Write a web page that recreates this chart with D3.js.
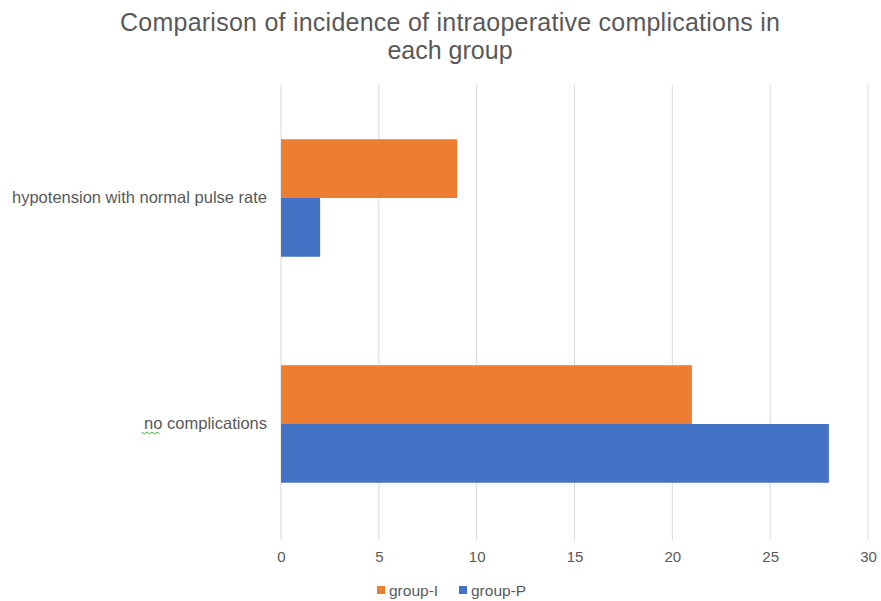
<!DOCTYPE html>
<html>
<head>
<meta charset="utf-8">
<script src="https://cdn.jsdelivr.net/npm/d3@7"></script>
<style>
  body { margin: 0; background: #fff; }
  text { font-family: "Liberation Sans", Arial, sans-serif; fill: #595959; }
</style>
</head>
<body>
<div id="chart"></div>
<script>
// data
const categories = ["hypotension with normal pulse rate", "no complications"];
const seriesNames = ["group-I", "group-P"];
const groupI = [9, 21];
const groupP = [2, 28];
const xTicks = [0, 5, 10, 15, 20, 25, 30];
const colors = ["#ed7d31", "#4472c4"];

const width = 881, height = 601;
const margin = { top: 85, right: 13, bottom: 64, left: 281 };

const svg = d3.select("#chart").append("svg")
    .attr("width", width)
    .attr("height", height);

// title
svg.append("text")
    .attr("x", 450).attr("y", 31)
    .attr("text-anchor", "middle")
    .style("font-size", "25px")
    .attr("textLength", 660)
    .text("Comparison of incidence of intraoperative complications in");
svg.append("text")
    .attr("x", 450).attr("y", 59)
    .attr("text-anchor", "middle")
    .style("font-size", "25px")
    .text("each group");

const x = d3.scaleLinear().domain([0, 30]).range([margin.left, 868]);
const y = d3.scaleBand().domain(categories)
    .range([margin.top, height - margin.bottom])
    .paddingInner(0.48).paddingOuter(0.24);
const ySub = d3.scaleBand().domain(seriesNames).range([0, y.bandwidth()]);

// gridlines
svg.append("g")
    .selectAll("line")
    .data(xTicks)
    .join("line")
    .attr("x1", d => x(d)).attr("x2", d => x(d))
    .attr("y1", margin.top).attr("y2", height - margin.bottom + 3)
    .attr("stroke", "#d9d9d9")
    .attr("stroke-width", 1);

// bars
const rows = categories.map((c, i) => ({ cat: c, vals: [groupI[i], groupP[i]] }));
const g = svg.append("g");
rows.forEach(r => {
    g.selectAll(null)
        .data(r.vals.map((v, j) => ({ name: seriesNames[j], v: v, c: colors[j] })))
        .join("rect")
        .attr("x", x(0))
        .attr("y", d => y(r.cat) + ySub(d.name))
        .attr("width", d => x(d.v) - x(0))
        .attr("height", ySub.bandwidth())
        .attr("fill", d => d.c);
});

// x axis labels
const xAxis = svg.append("g")
    .attr("transform", `translate(0,${height - margin.bottom})`)
    .call(d3.axisBottom(x).tickValues(xTicks).tickSize(0).tickPadding(14));
xAxis.select(".domain").remove();
xAxis.selectAll("text")
    .style("font-size", "15px")
    .style("font-family", "Liberation Sans, Arial, sans-serif")
    .attr("fill", "#595959");

// y axis labels
const yAxis = svg.append("g")
    .attr("transform", `translate(${margin.left},0)`)
    .call(d3.axisLeft(y).tickSize(0).tickPadding(14));
yAxis.select(".domain").remove();
yAxis.selectAll("text")
    .style("font-size", "16.5px")
    .style("font-family", "Liberation Sans, Arial, sans-serif")
    .attr("fill", "#595959");

// the spell-check squiggle under "no"
const noY = y("no complications") + y.bandwidth() / 2 + 8;
const squiggle = d3.range(0, 8).map(i => [142 + i * 2.5, noY + (i % 2 ? 2 : 0)]);
svg.append("path")
    .attr("d", d3.line()(squiggle))
    .attr("fill", "none")
    .attr("stroke", "#3cb043")
    .attr("stroke-width", 1);

// legend
const legend = svg.append("g").attr("transform", "translate(377,590)");
const legX = [0, 82];
seriesNames.forEach((n, i) => {
    legend.append("rect")
        .attr("x", legX[i]).attr("y", -4)
        .attr("width", 8).attr("height", 8)
        .attr("fill", colors[i]);
    legend.append("text")
        .attr("x", legX[i] + 12).attr("y", 6)
        .style("font-size", "15.5px")
        .text(n);
});
</script>
</body>
</html>
